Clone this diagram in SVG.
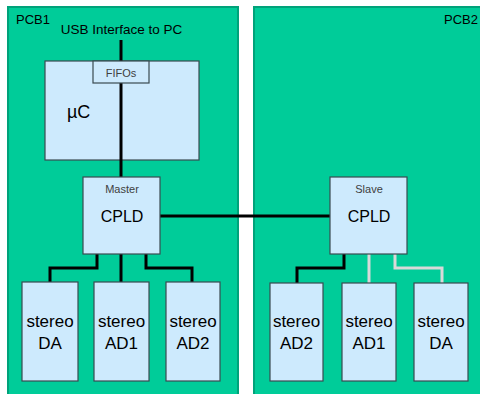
<svg xmlns="http://www.w3.org/2000/svg" width="480" height="394" viewBox="0 0 480 394">
<style>
.pcb{fill:#00cc99;stroke:#00a27a;stroke-width:2}
.box{fill:#cdeafd;stroke:#3a4a50;stroke-width:1.2}
.t{font-family:"Liberation Sans",Arial,sans-serif;fill:#000}
.small{font-family:"Liberation Sans",Arial,sans-serif;fill:#404040;font-size:11px;text-anchor:middle}
.big{font-size:16px;text-anchor:middle}
.st{font-size:17px;text-anchor:middle}
.w{fill:none;stroke:#000;stroke-width:3}
.g{fill:none;stroke:#d9d9d9;stroke-width:3}
</style>
<rect width="480" height="394" fill="#ffffff"/>
<g id="pcb1"><rect class="pcb" x="8" y="7" width="230" height="420"/><text class="t" x="16" y="24" font-size="13">PCB1</text></g>
<g id="pcb2"><rect class="pcb" x="254" y="7" width="240" height="420"/><text class="t" x="478" y="24" font-size="13" text-anchor="end">PCB2</text></g>
<text class="t" x="121.5" y="34" font-size="13.5" text-anchor="middle">USB Interface to PC</text>
<g id="uc"><rect class="box" x="45" y="61" width="154" height="99"/><text class="t" x="67" y="118" font-size="18">µC</text></g>
<g id="connectors">
<line class="w" x1="121" y1="40" x2="121" y2="178"/>
<line class="w" x1="160" y1="216" x2="330" y2="216"/>
<polyline class="w" points="97,254 97,268 50,268 50,282"/>
<line class="w" x1="121" y1="254" x2="121" y2="282"/>
<polyline class="w" points="146,254 146,268 192,268 192,282"/>
<polyline class="w" points="344,254 344,268 297,268 297,283"/>
<line class="g" x1="369" y1="254" x2="369" y2="283"/>
<polyline class="g" points="395,254 395,268 442,268 442,283"/>
</g>
<g id="fifos"><rect class="box" x="93" y="61" width="56" height="22"/><text class="small" x="121" y="77">FIFOs</text></g>
<g id="master"><rect class="box" x="83" y="177" width="77" height="77"/><text class="small" x="122" y="193">Master</text><text class="t big" x="122" y="222">CPLD</text></g>
<g id="slave"><rect class="box" x="330" y="177" width="77" height="77"/><text class="small" x="369" y="193">Slave</text><text class="t big" x="369" y="222">CPLD</text></g>
<g id="l_da"><rect class="box" x="22" y="282" width="56" height="99"/><text class="t st" x="50" y="327">stereo</text><text class="t st" x="50" y="349">DA</text></g>
<g id="l_ad1"><rect class="box" x="94" y="282" width="55" height="99"/><text class="t st" x="121.5" y="327">stereo</text><text class="t st" x="121.5" y="349">AD1</text></g>
<g id="l_ad2"><rect class="box" x="166" y="282" width="54" height="99"/><text class="t st" x="193" y="327">stereo</text><text class="t st" x="193" y="349">AD2</text></g>
<g id="r_ad2"><rect class="box" x="270" y="283" width="53" height="98"/><text class="t st" x="296.5" y="327">stereo</text><text class="t st" x="296.5" y="349">AD2</text></g>
<g id="r_ad1"><rect class="box" x="342" y="283" width="54" height="98"/><text class="t st" x="369" y="327">stereo</text><text class="t st" x="369" y="349">AD1</text></g>
<g id="r_da"><rect class="box" x="414" y="283" width="54" height="98"/><text class="t st" x="441" y="327">stereo</text><text class="t st" x="441" y="349">DA</text></g>
</svg>
